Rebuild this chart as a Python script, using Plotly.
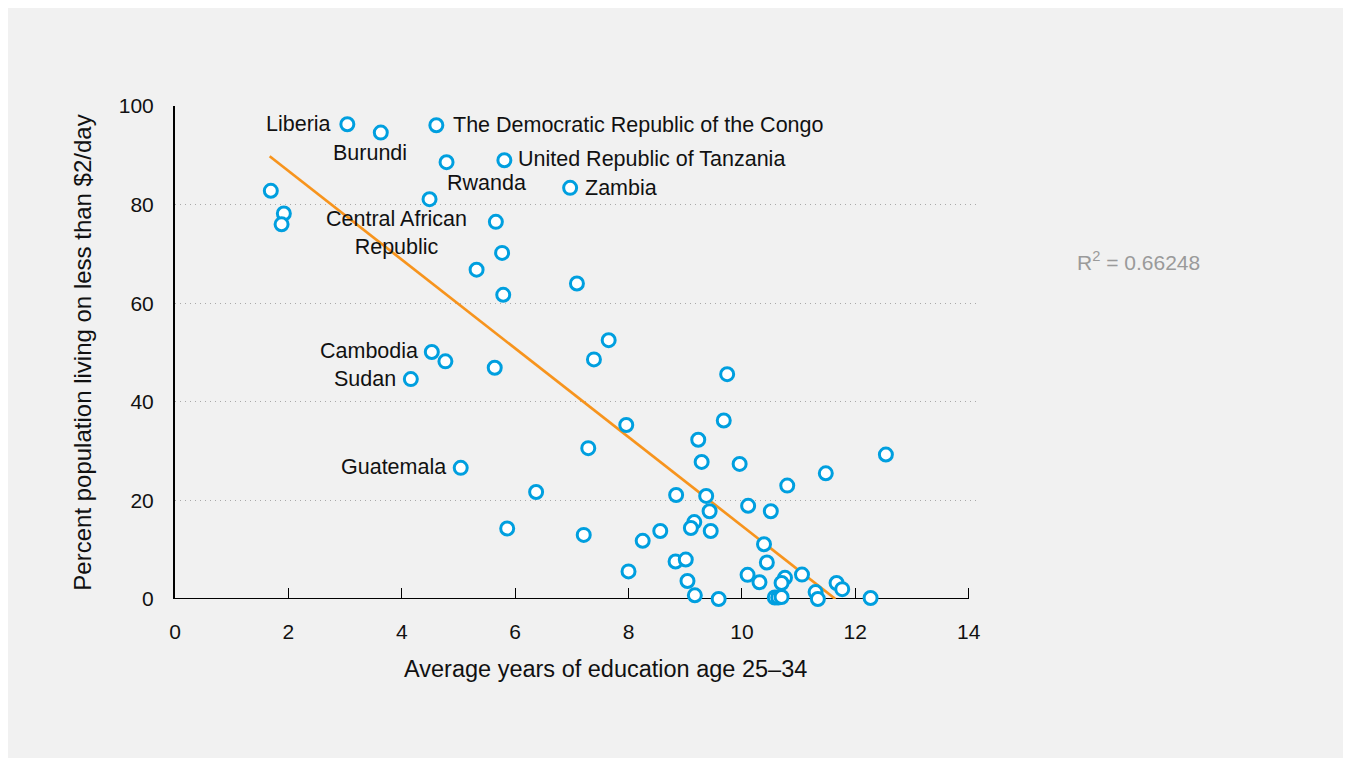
import plotly.graph_objects as go

# ---- data ----
edu_years = [3.04, 3.63, 4.61, 4.79, 5.81, 6.97, 1.69, 1.92, 1.88, 4.49,
             5.66, 5.77, 5.32, 5.79, 7.09, 4.53, 4.77, 4.16, 5.64, 7.65,
             7.39, 9.74, 9.68, 7.96, 9.23, 7.29, 5.04, 9.29, 9.96, 12.54,
             11.48, 10.80, 6.37, 8.84, 9.37, 10.11, 9.43, 10.51, 9.16, 9.10,
             5.86, 9.45, 8.56, 7.21, 8.25, 10.39, 8.83, 9.01, 10.44, 8.00,
             10.10, 11.06, 10.76, 10.70, 10.31, 9.04, 11.67, 11.77, 11.30, 9.17,
             9.59, 10.58, 10.64, 10.70, 11.34, 12.27]
pov_pct = [96.3, 94.6, 96.1, 88.6, 89.0, 83.4, 82.8, 78.2, 76.0, 81.1,
           76.5, 70.2, 66.8, 61.7, 64.0, 50.1, 48.2, 44.6, 46.9, 52.5,
           48.6, 45.6, 36.2, 35.3, 32.3, 30.6, 26.6, 27.8, 27.4, 29.3,
           25.5, 23.0, 21.7, 21.1, 20.9, 18.9, 17.8, 17.8, 15.6, 14.4,
           14.3, 13.8, 13.8, 13.0, 11.8, 11.1, 7.6, 8.0, 7.4, 5.6,
           4.9, 4.95, 4.3, 3.25, 3.4, 3.65, 3.25, 2.0, 1.4, 0.75,
           0.0, 0.3, 0.3, 0.4, 0.0, 0.2]
country = ["Liberia", "Burundi", "The Democratic Republic of the Congo", "Rwanda",
           "United Republic of Tanzania", "Zambia", "", "", "", "",
           "Central African<br>Republic", "", "", "", "", "Cambodia", "", "Sudan", "", "",
           "", "", "", "", "", "", "Guatemala"] + [""] * 39

trend_x = [1.67, 11.65]
trend_y = [89.8, 0.0]
r_squared = "0.66248"

x_ticks = [0, 2, 4, 6, 8, 10, 12, 14]
y_ticks = [0, 20, 40, 60, 80, 100]
x_title = "Average years of education age 25\u201334"
y_title = "Percent population living on less than $2/day"

# ---- styling ----
FONT = "Liberation Sans, Arial, Helvetica, sans-serif"
BLUE = "#009fdf"
ORANGE = "#f7941d"
BG = "#f1f1f1"
INK = "#111111"

label_style = {
    "Liberia": dict(xanchor="right", xshift=-14, yshift=0),
    "Burundi": dict(xanchor="center", xshift=-11, yshift=-20),
    "The Democratic Republic of the Congo": dict(xanchor="left", xshift=15, yshift=0),
    "Rwanda": dict(xanchor="left", xshift=-2, yshift=-21),
    "United Republic of Tanzania": dict(xanchor="left", xshift=12, yshift=1),
    "Zambia": dict(xanchor="left", xshift=13, yshift=0),
    "Central African<br>Republic": dict(xanchor="center", xshift=-99, yshift=-11),
    "Cambodia": dict(xanchor="right", xshift=-12, yshift=1),
    "Sudan": dict(xanchor="right", xshift=-13, yshift=0),
    "Guatemala": dict(xanchor="right", xshift=-13, yshift=1),
}

fig = go.Figure()

fig.add_trace(go.Scatter(
    x=trend_x, y=trend_y, mode="lines",
    line=dict(color=ORANGE, width=2.7),
    hoverinfo="skip", showlegend=False, cliponaxis=False,
))

fig.add_trace(go.Scatter(
    x=edu_years, y=pov_pct, mode="markers",
    marker=dict(symbol="circle", size=13, color="white",
                line=dict(color=BLUE, width=3)),
    text=[c.replace("<br>", " ") for c in country],
    showlegend=False, cliponaxis=False,
))

for xv, yv, name in zip(edu_years, pov_pct, country):
    if not name:
        continue
    st = label_style[name]
    fig.add_annotation(
        x=xv, y=yv, xref="x", yref="y", text=name, showarrow=False,
        xanchor=st["xanchor"], yanchor="middle",
        xshift=st["xshift"], yshift=st["yshift"], align="center",
        font=dict(family=FONT, size=21.5, color=INK),
    )

fig.add_annotation(
    x=1.118, y=0.685, xref="paper", yref="paper",
    text="R<sup>2</sup> = " + r_squared, showarrow=False,
    xanchor="left", yanchor="middle",
    font=dict(family=FONT, size=21, color="#9a9a9a"),
)

# x axis title (sits right of the plot centre in the reference)
fig.add_annotation(
    x=0.535, y=-0.141, xref="paper", yref="paper",
    text=x_title, showarrow=False, xanchor="center", yanchor="middle",
    font=dict(family=FONT, size=23.5, color=INK),
)

# x axis baseline (ends at 14 while gridlines run a little further)
fig.add_shape(type="line", xref="x", yref="y", x0=x_ticks[0], x1=x_ticks[-1],
              y0=0, y1=0, line=dict(color="black", width=2), layer="between")

fig.update_layout(
    width=1335, height=750,
    paper_bgcolor=BG, plot_bgcolor=BG,
    margin=dict(l=167, r=363, t=98, b=159),
    font=dict(family=FONT, size=21, color=INK),
    showlegend=False,
    xaxis=dict(
        range=[0, 14.2], tickvals=x_ticks, ticktext=[str(v) for v in x_ticks],
        showgrid=False, zeroline=False, showline=False,
        ticks="inside", ticklen=11, tickwidth=1, tickcolor="black",
        ticklabelstandoff=18,
        tickfont=dict(family=FONT, size=21, color=INK),
    ),
    yaxis=dict(
        range=[0, 100], tickvals=y_ticks, ticktext=[str(v) for v in y_ticks],
        showgrid=True, gridcolor="#a8a8a8", gridwidth=1, griddash="1px,4px",
        zeroline=False, showline=True, linecolor="black", linewidth=2,
        ticks="", ticklabelstandoff=15,
        tickfont=dict(family=FONT, size=21, color=INK),
        title=dict(text=y_title,
                   font=dict(family=FONT, size=24, color=INK), standoff=20),
    ),
)

fig.write_html("out.html")
